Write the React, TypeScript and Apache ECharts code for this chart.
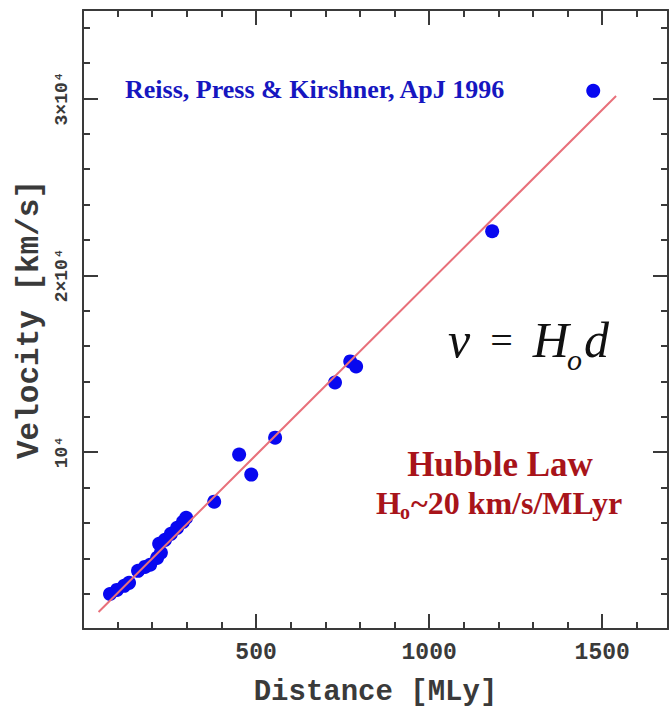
import React, { useEffect, useRef } from "react";
import * as echarts from "echarts";

// Supernova distances (MLy) and recession velocities (km/s)
const distance = [78, 98, 119, 133, 159, 179, 194, 214, 225, 220, 237, 254, 272, 289, 298, 379, 451, 486, 555, 728, 772, 789, 1182, 1474];
const velocity = [1980, 2210, 2440, 2610, 3290, 3510, 3630, 4020, 4310, 4820, 5040, 5380, 5720, 6060, 6290, 7200, 9860, 8730, 10820, 13940, 15130, 14840, 22490, 30430];

// Hubble-law fit line end points
const fitDistance = [45, 1540];
const fitVelocity = [960, 30140];

// Tick labels
const xTickValues = [500, 1000, 1500];
const yTickValues = [10000, 20000, 30000];
const yTickLabels = ["10⁴", "2×10⁴", "3×10⁴"];

const AXIS_COLOR = "#3a3a3a";
const MONO = "'Liberation Mono', 'DejaVu Sans Mono', monospace";
const SERIF = "'Liberation Serif', 'DejaVu Serif', serif";
const RED = "#a8141a";

export default function App() {
  const ref = useRef<HTMLDivElement>(null);

  useEffect(() => {
    if (!ref.current) return;
    const chart = echarts.init(ref.current, undefined, { renderer: "svg" });

    const lineStyle = { color: AXIS_COLOR, width: 2 };
    const baseX = {
      type: "value" as const,
      min: 0,
      max: 1690,
      interval: 500,
      axisLine: { show: true, onZero: false, lineStyle },
      axisTick: { show: true, inside: true, length: 15, lineStyle },
      minorTick: { show: true, splitNumber: 5, length: 7, lineStyle },
      splitLine: { show: false },
      minorSplitLine: { show: false },
    };
    const baseY = {
      type: "value" as const,
      min: 0,
      max: 35000,
      interval: 10000,
      axisLine: { show: true, onZero: false, lineStyle },
      axisTick: { show: true, inside: true, length: 15, lineStyle },
      minorTick: { show: true, splitNumber: 5, length: 7, lineStyle },
      splitLine: { show: false },
      minorSplitLine: { show: false },
    };

    const points = distance.map((d, i) => [d, velocity[i]]);
    const fit = fitDistance.map((d, i) => [d, fitVelocity[i]]);

    const formulaFont = (size: number) => `italic ${size}px ${SERIF}`;
    const redFont = (size: number) => `bold ${size}px ${SERIF}`;

    chart.setOption({
      animation: false,
      backgroundColor: "#ffffff",
      grid: { left: 83, right: 1, top: 10, bottom: 88, containLabel: false, outerBoundsMode: "none" },
      xAxis: [
        {
          ...baseX,
          position: "bottom",
          axisLabel: {
            show: true,
            margin: 12,
            formatter: (v: number) => (xTickValues.includes(v) ? String(v) : ""),
            fontFamily: MONO,
            fontSize: 23,
            fontWeight: "bold",
            color: AXIS_COLOR,
          },
          name: "Distance [MLy]",
          nameLocation: "middle",
          nameGap: 49,
          nameTextStyle: { fontFamily: MONO, fontSize: 29, fontWeight: "bold", color: AXIS_COLOR },
        },
        { ...baseX, position: "top", axisLabel: { show: false } },
      ],
      yAxis: [
        {
          ...baseY,
          position: "left",
          axisLabel: {
            show: true,
            rotate: 90,
            margin: 12,
            formatter: (v: number) => {
              const k = yTickValues.indexOf(v);
              return k >= 0 ? yTickLabels[k] : "";
            },
            fontFamily: MONO,
            fontSize: 18,
            fontWeight: "bold",
            color: AXIS_COLOR,
          },
          name: "Velocity [km/s]",
          nameLocation: "middle",
          nameGap: 38,
          nameTextStyle: { fontFamily: MONO, fontSize: 31, fontWeight: "bold", color: AXIS_COLOR },
        },
        { ...baseY, position: "right", axisLabel: { show: false } },
      ],
      series: [
        {
          type: "scatter",
          xAxisIndex: 0,
          yAxisIndex: 0,
          data: points,
          symbol: "circle",
          symbolSize: 14,
          itemStyle: { color: "#0808f0", opacity: 1 },
        },
        {
          type: "line",
          xAxisIndex: 0,
          yAxisIndex: 0,
          data: fit,
          showSymbol: false,
          symbol: "none",
          lineStyle: { color: "#e8707a", width: 2 },
        },
      ],
      graphic: [
        {
          type: "text",
          left: 125,
          top: 76,
          style: {
            text: "Reiss, Press & Kirshner, ApJ 1996",
            font: `bold 26px ${SERIF}`,
            fill: "#1616c0",
          },
        },
        {
          type: "text",
          x: 448,
          y: 340,
          style: {
            text: "{i|v}{u|  =  }{i|H}",
            align: "left",
            verticalAlign: "middle",
            rich: {
              i: { fontFamily: SERIF, fontStyle: "italic", fontSize: 50, lineHeight: 60, fill: "#111" },
              u: { fontFamily: SERIF, fontSize: 40, lineHeight: 60, fill: "#111" },
            },
          },
        },
        {
          type: "text",
          x: 567,
          y: 359,
          style: { text: "o", align: "left", verticalAlign: "middle", font: formulaFont(30), fill: "#111" },
        },
        {
          type: "text",
          x: 584,
          y: 340,
          style: { text: "d", align: "left", verticalAlign: "middle", font: formulaFont(50), fill: "#111" },
        },
        {
          type: "text",
          x: 500,
          y: 464,
          style: { text: "Hubble Law", align: "center", verticalAlign: "middle", font: redFont(35), fill: RED },
        },
        {
          type: "text",
          x: 376,
          y: 503,
          style: { text: "H", align: "left", verticalAlign: "middle", font: redFont(32), fill: RED },
        },
        {
          type: "text",
          x: 400,
          y: 512,
          style: { text: "o", align: "left", verticalAlign: "middle", font: redFont(20), fill: RED },
        },
        {
          type: "text",
          x: 411,
          y: 503,
          style: { text: "~20 km/s/MLyr", align: "left", verticalAlign: "middle", font: redFont(32), fill: RED },
        },
      ],
    });

    return () => chart.dispose();
  }, []);

  return (
    <div
      ref={ref}
      style={{ position: "absolute", left: 0, top: 0, width: 669, height: 717, background: "#fff" }}
    />
  );
}
